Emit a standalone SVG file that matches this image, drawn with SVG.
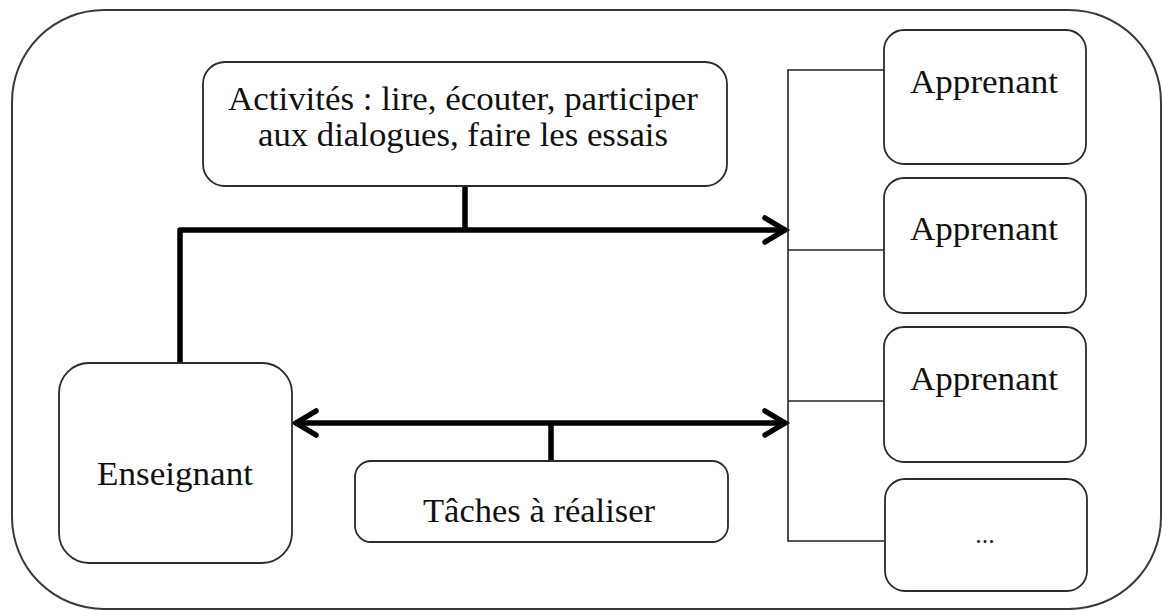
<svg xmlns="http://www.w3.org/2000/svg" width="1162" height="611" viewBox="0 0 1162 611">
<style>
.box{fill:#fff;stroke:#2b2b2b;stroke-width:1.8}
.outer{fill:#fff;stroke:#3a3a3a;stroke-width:2}
.lbl{font-family:"Liberation Serif","Times New Roman",serif;font-size:34px;fill:#111;text-anchor:middle}
.thick{fill:none;stroke:#000;stroke-width:5.5;stroke-linejoin:round}
.thin{fill:none;stroke:#222;stroke-width:1.6}
</style>
<defs>
<marker id="chev" markerUnits="userSpaceOnUse" markerWidth="40" markerHeight="40" viewBox="-30 -20 40 40" refX="0" refY="0" orient="auto-start-reverse" overflow="visible">
<path d="M-21,-12 L-1,0 L-21,12" fill="none" stroke="#000" stroke-width="5.5" stroke-linecap="round" stroke-linejoin="miter"/>
</marker>
</defs>
<rect class="outer" x="12" y="10" width="1149" height="599" rx="92" ry="92"/>
<g id="connectors">
<path class="thick" d="M180,363 L180,230 L786,230" marker-end="url(#chev)"/>
<path class="thick" d="M465,186 L465,230"/>
<path class="thick" d="M295,423 L786,423" marker-start="url(#chev)" marker-end="url(#chev)"/>
<path class="thick" d="M551,423 L551,461"/>
<path class="thin" d="M884,70 L788,70 L788,541 L884,541"/>
<path class="thin" d="M788,250 L884,250"/>
<path class="thin" d="M788,401 L884,401"/>
</g>
<g id="activites">
<rect class="box" x="203" y="62" width="524" height="124" rx="22" ry="22"/>
<text class="lbl" x="463" y="110" textLength="470" lengthAdjust="spacingAndGlyphs">Activités : lire, écouter, participer</text>
<text class="lbl" x="463" y="146" textLength="410" lengthAdjust="spacingAndGlyphs">aux dialogues, faire les essais</text>
</g>
<g id="enseignant">
<rect class="box" x="59" y="363" width="233" height="200" rx="30" ry="30"/>
<text class="lbl" x="175" y="485" textLength="156" lengthAdjust="spacingAndGlyphs">Enseignant</text>
</g>
<g id="taches">
<rect class="box" x="355" y="461" width="373" height="81" rx="16" ry="16"/>
<text class="lbl" x="539" y="522" textLength="232" lengthAdjust="spacingAndGlyphs">Tâches à réaliser</text>
</g>
<g id="apprenant1">
<rect class="box" x="884" y="30" width="202" height="134" rx="20" ry="20"/>
<text class="lbl" x="984" y="93" textLength="148" lengthAdjust="spacingAndGlyphs">Apprenant</text>
</g>
<g id="apprenant2">
<rect class="box" x="884" y="178" width="202" height="135" rx="20" ry="20"/>
<text class="lbl" x="984" y="240" textLength="148" lengthAdjust="spacingAndGlyphs">Apprenant</text>
</g>
<g id="apprenant3">
<rect class="box" x="884" y="327" width="202" height="135" rx="20" ry="20"/>
<text class="lbl" x="984" y="390" textLength="148" lengthAdjust="spacingAndGlyphs">Apprenant</text>
</g>
<g id="autres">
<rect class="box" x="885" y="479" width="202" height="112" rx="20" ry="20"/>
<text class="lbl" x="985" y="543" style="font-size:26px">...</text>
</g>
</svg>
